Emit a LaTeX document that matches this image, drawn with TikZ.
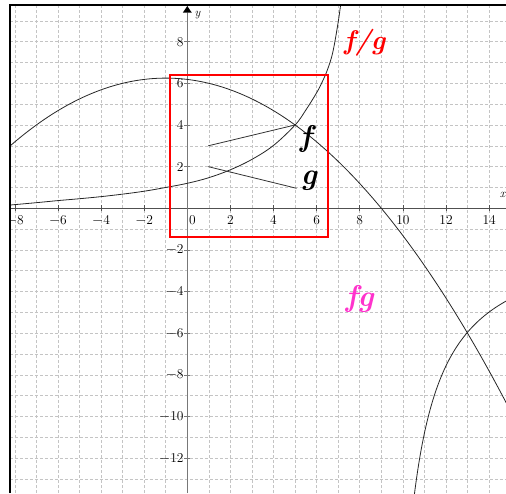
\documentclass[tikz,border=0pt]{standalone}
\definecolor{fgmag}{RGB}{255,51,204}
\definecolor{gridc}{RGB}{196,196,196}
\definecolor{axc}{RGB}{80,80,80}
\definecolor{yaxc}{RGB}{120,120,120}
\begin{document}
\begin{tikzpicture}[x=21.56pt,y=20.83pt,
  gridline/.style={gridc, line width=0.6pt, dash pattern=on 3pt off 2pt},
  curve/.style={black!85, line width=0.8pt},
  pointer/.style={black!80, line width=0.8pt},
  ticklab/.style={font=\fontsize{13.5}{14}\selectfont, inner sep=0pt},
  biglab/.style={font=\fontsize{30}{32}\selectfont\bfseries\itshape, inner sep=0pt, anchor=base west},
  framebox/.style={red, line width=2pt},
]
\useasboundingbox (-8.687,-13.668) rectangle (14.782,10.0);
\begin{scope}
\clip (-8.224,-13.668) rectangle (14.782,9.746);
% grid
\foreach \i in {-8,...,14} \draw[gridline] (\i,-13.668) -- (\i,9.746);
\foreach \j in {-13,...,9} \draw[gridline] (-8.224,\j) -- (14.782,\j);
% axes
\coordinate (xl) at (-8.224,0);
\coordinate (xr) at (14.782,0);
\coordinate (yb) at (0,-13.668);
\coordinate (yt) at (0,9.39);
\draw[axc, line width=0.8pt] (xl) -- (xr);
\draw[yaxc, line width=0.9pt] (yb) -- (yt);
\fill[black] (0,9.71) -- (-0.21,9.39) -- (0.21,9.39) -- cycle;
\node[font=\fontsize{12}{12}\selectfont\itshape, inner sep=0pt] (ylab) at (0.47,9.28) {y};
\node[font=\fontsize{12}{12}\selectfont\itshape, inner sep=0pt, anchor=east] (xlab) at (14.76,0.62) {x};
% ticks and labels
\foreach \i in {-8,-6,-4,-2,2,4,6,8,10,12,14} {
  \draw[axc, line width=0.6pt] (\i,0) ++(0,-3pt) -- ++(0,6pt);
}
\foreach \i/\t in {-8/$-$8,-6/$-$6,-4/$-$4,-2/$-$2,2/2,4/4,6/6,8/8,10/10,12/12,14/14}
  \node[ticklab, anchor=north] (xt\i) at ([yshift=-7pt]\i,0) {\t};
\node[ticklab, anchor=north] (xt0) at ([xshift=5.2pt,yshift=-7pt]0,0) {0};
\foreach \j in {-12,-10,-8,-6,-4,-2,2,4,6,8} {
  \draw[yaxc, line width=0.6pt] (0,\j) ++(-3pt,0) -- ++(6pt,0);
}
\foreach \j/\t in {-12/$-$12,-10/$-$10,-8/$-$8,-6/$-$6,-4/$-$4,-2/$-$2,2/2,4/4,6/6,8/8}
  \node[ticklab, anchor=east] (yt\j) at ([xshift=-3.5pt]0,\j) {\t};
% curves
\draw[curve, domain=-8.4:14.9, samples=120] plot (\x, {6.25-(\x+1)*(\x+1)/16});
\draw[curve] plot[smooth, tension=0.6] coordinates {
  (-8.4,0.14) (-7,0.27) (-6,0.37) (-5,0.46) (-4,0.56) (-3,0.68) (-2,0.82)
  (-1,1.0) (0,1.2) (1,1.47) (2,1.85) (3,2.35) (4,3.02) (5,4.0) (5.5,4.72)
  (6,5.55) (6.25,6.05) (6.5,6.65) (6.75,7.5) (7.0,8.95) (7.14,10.0)};
\draw[curve, domain=10.45:14.9, samples=80] plot (\x, {-1.11-19.35/(\x-9)});
% red box
\draw[framebox] (-0.80,-1.39) rectangle (6.54,6.40);
% pointers
\coordinate (fp0) at (0.97,3.0);
\coordinate (fp1) at (5.0,4.0);
\coordinate (gp0) at (0.97,2.0);
\coordinate (gp1) at (5.07,0.96);
\draw[pointer] (fp0) -- (fp1);
\draw[pointer] (gp0) -- (gp1);
% labels
\node[biglab] (flab) at (5.21,2.98) {f};
\node[biglab] (glab) at (5.26,1.15) {g};
\node[biglab, red, font=\fontsize{27}{28}\selectfont\bfseries\itshape] (fglab) at (7.27,7.60) {f/g};
\node[biglab, fgmag] (prodlab) at (7.33,-4.73) {fg};
\end{scope}
% frame
\draw[black, line width=2pt] (-8.224,-13.668) -- (-8.224,9.746) -- (14.782,9.746);
\end{tikzpicture}
\end{document}
